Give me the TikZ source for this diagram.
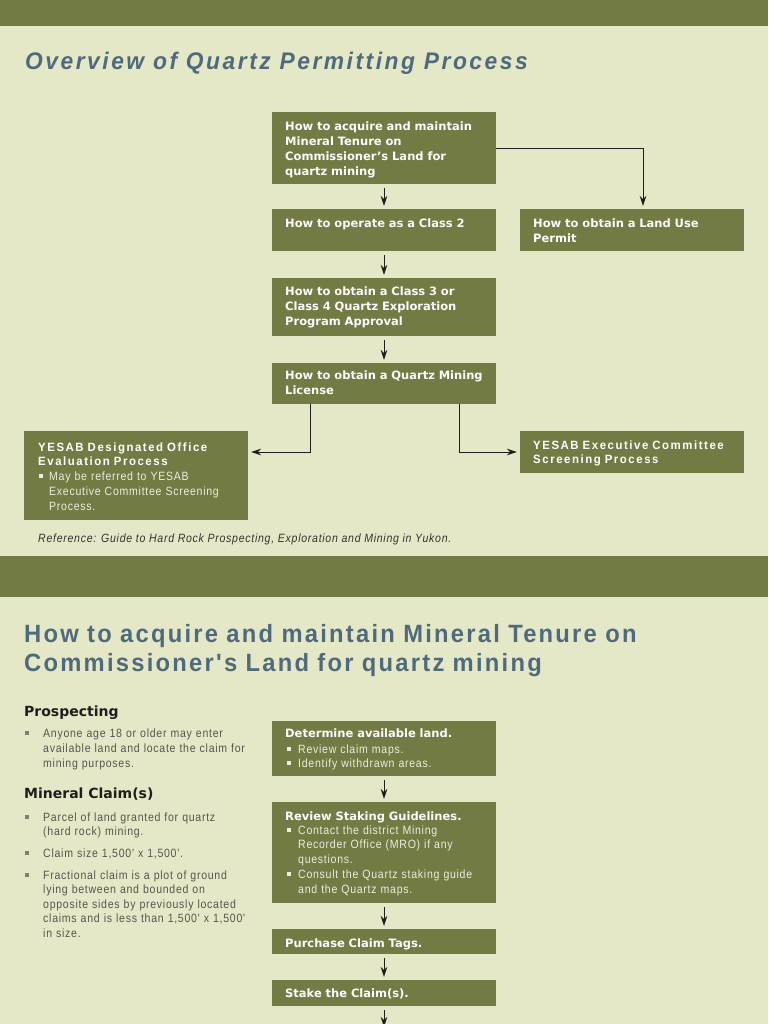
\documentclass[tikz,border=0pt]{standalone}
\usepackage{fontspec}
\setmainfont{Liberation Sans}
\newfontfamily\boxfont{DejaVu Sans}
\newfontfamily\titlefontA[FakeStretch=0.95,LetterSpace=10.5]{Liberation Sans}
\newfontfamily\titlefontB[FakeStretch=0.95,LetterSpace=9]{Liberation Sans}
\newfontfamily\condfont[FakeStretch=0.95,LetterSpace=13]{Liberation Sans}
\newfontfamily\bodyfont[FakeStretch=0.88,LetterSpace=6]{Liberation Sans}
\usetikzlibrary{arrows.meta}
\definecolor{bgc}{HTML}{E5E8C6}
\definecolor{olv}{HTML}{737B45}
\definecolor{ttl}{HTML}{4E6A7C}
\definecolor{bodyc}{HTML}{555550}
\definecolor{bulc}{HTML}{7E7E72}
\definecolor{lite}{HTML}{ECECDF}
\definecolor{arrc}{HTML}{1E1E1E}
\definecolor{headc}{HTML}{1E1E1E}
\newcommand{\wsq}{\hspace*{2pt}\rule[2pt]{4pt}{4pt}\hspace*{7pt}}
\newcommand{\wind}{\hspace*{13pt}}
\newcommand{\dsq}{\hspace*{1pt}\rule[2pt]{4pt}{4pt}\hspace*{6pt}}
\newcommand{\dind}{\hspace*{11pt}}
\newcommand{\gsq}{\textcolor{bulc}{\rule[2pt]{4pt}{4pt}}\hspace*{14pt}}
\newcommand{\gind}{\hspace*{18pt}}
\begin{document}
\begin{tikzpicture}[x=1pt,y=-1pt,
  obox/.style={fill=olv, draw=none, inner sep=0pt, outer sep=0pt, minimum width=224pt},
  htext/.style={anchor=base west, inner sep=0pt, text width=220pt, align=left, text=white,
    font=\boxfont\bfseries\fontsize{11.5}{15}\selectfont},
  ctext/.style={anchor=base west, inner sep=0pt, text width=220pt, align=left, text=white,
    font=\condfont\bfseries\fontsize{12}{14}\selectfont},
  btext/.style={anchor=base west, inner sep=0pt, text width=220pt, align=left, text=lite,
    font=\bodyfont\fontsize{12}{15}\selectfont},
  ltext/.style={anchor=base west, inner sep=0pt, text width=230pt, align=left, text=bodyc,
    font=\bodyfont\fontsize{12}{14.5}\selectfont},
  lhead/.style={anchor=base west, inner sep=0pt, text=headc,
    font=\boxfont\bfseries\fontsize{14}{16}\selectfont},
  arr/.style={draw=arrc, line width=1pt, -{Stealth[length=10pt,width=6.5pt,inset=3pt]}},
  varr/.style={arr, shorten <=4pt, shorten >=3pt}]
\useasboundingbox (0,0) rectangle (768,1024);
\fill[bgc] (0,0) rectangle (768,1024);
\fill[olv] (0,0) rectangle (768,26);
\fill[olv] (0,556) rectangle (768,597);

% titles
\node[anchor=base west, inner sep=0pt, text=ttl, font=\titlefontA\bfseries\itshape\fontsize{24}{28}\selectfont] (t1) at (25,70) {Overview of Quartz Permitting Process};
\node[anchor=base west, inner sep=0pt, text width=740pt, align=left, text=ttl, font=\titlefontB\bfseries\fontsize{25}{29}\selectfont] (t2) at (24,642) {How to acquire and maintain Mineral Tenure on\\Commissioner's Land for quartz mining};

% overview boxes
\node[obox, minimum height=72pt] (b1) at (384,148) {};
\node[obox, minimum height=42pt] (b2) at (384,230) {};
\node[obox, minimum height=42pt] (land) at (632,230) {};
\node[obox, minimum height=58pt] (b3) at (384,307) {};
\node[obox, minimum height=41pt] (b4) at (384,383.5) {};
\node[obox, minimum height=89pt] (do) at (136,475.5) {};
\node[obox, minimum height=42pt] (exec) at (632,452) {};

\node[htext] (b1t) at (285,131) {How to acquire and maintain\\Mineral Tenure on\\Commissioner’s Land for\\quartz mining};
\node[htext] (b2t) at (285,227) {How to operate as a Class 2};
\node[htext] (landt) at (533,227) {How to obtain a Land Use\\Permit};
\node[htext] (b3t) at (285,295) {How to obtain a Class 3 or\\Class 4 Quartz Exploration\\Program Approval};
\node[htext] (b4t) at (285,379) {How to obtain a Quartz Mining\\License};
\node[ctext] (dot) at (38,451) {YESAB Designated Office\\Evaluation Process};
\node[btext] (dob) at (38,480) {\dsq May be referred to YESAB\\\dind Executive Committee Screening\\\dind Process.};
\node[ctext] (exect) at (533,449) {YESAB Executive Committee\\Screening Process};

\draw[varr] (b1) -- (b2);
\draw[varr] (b2) -- (b3);
\draw[varr] (b3) -- (b4);
\draw[arr, shorten >=3pt] ([yshift=-1pt]b1.east) -| ([xshift=11pt]land.north);
\draw[arr, shorten >=3pt] ([xshift=-74pt]b4.south) |- ([yshift=-21pt]do.north east);
\draw[arr, shorten >=3pt] ([xshift=75pt]b4.south) |- (exec.west);

\node[anchor=base west, inner sep=0pt, text=black!80, font=\bodyfont\itshape\fontsize{12}{14}\selectfont] (ref) at (38,542) {Reference: Guide to Hard Rock Prospecting, Exploration and Mining in Yukon.};

% left column
\node[lhead] (h1) at (24,716) {Prospecting};
\node[ltext, font=\bodyfont\fontsize{12}{15}\selectfont] (p1) at (25,737) {\gsq Anyone age 18 or older may enter\\\gind available land and locate the claim for\\\gind mining purposes.};
\node[lhead] (h2) at (24,798) {Mineral Claim(s)};
\node[ltext] (p2) at (25,821) {\gsq Parcel of land granted for quartz\\\gind (hard rock) mining.};
\node[ltext] (p3) at (25,857) {\gsq Claim size 1,500' x 1,500'.};
\node[ltext] (p4) at (25,879) {\gsq Fractional claim is a plot of ground\\\gind lying between and bounded on\\\gind opposite sides by previously located\\\gind claims and is less than 1,500' x 1,500'\\\gind in size.};

% right column
\node[obox, minimum height=55pt] (d1) at (384,748.5) {};
\node[obox, minimum height=101pt] (d2) at (384,852.5) {};
\node[obox, minimum height=25pt] (d3) at (384,941.5) {};
\node[obox, minimum height=26pt] (d4) at (384,993) {};
\coordinate (nxt) at (384,1027);

\node[htext] (d1h) at (285,737) {Determine available land.};
\node[btext, font=\bodyfont\fontsize{12}{14}\selectfont] (d1b) at (285,753) {\wsq Review claim maps.\\\wsq Identify withdrawn areas.};
\node[htext] (d2h) at (285,820) {Review Staking Guidelines.};
\node[btext, font=\bodyfont\fontsize{12}{14.75}\selectfont] (d2b) at (285,834) {\wsq Contact the district Mining\\\wind Recorder Office (MRO) if any\\\wind questions.\\\wsq Consult the Quartz staking guide\\\wind and the Quartz maps.};
\node[htext] (d3h) at (285,947) {Purchase Claim Tags.};
\node[htext] (d4h) at (285,997) {Stake the Claim(s).};

\draw[varr] (d1) -- (d2);
\draw[varr] (d2) -- (d3);
\draw[varr] (d3) -- (d4);
\draw[arr, shorten <=4pt] (d4) -- (nxt);
\end{tikzpicture}
\end{document}
